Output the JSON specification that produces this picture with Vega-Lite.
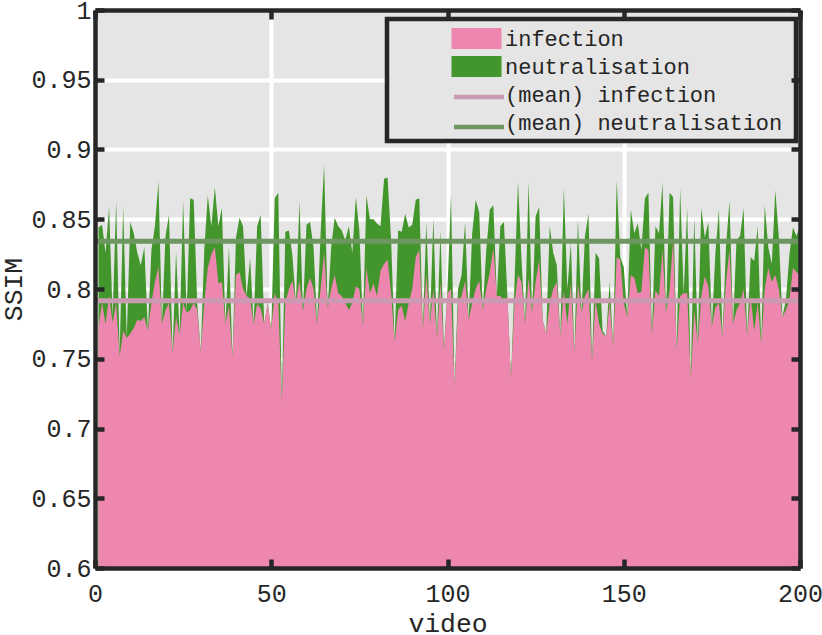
{
  "$schema": "https://vega.github.io/schema/vega-lite/v6.json",
  "autosize": {"type": "none"},
  "padding": {"left": 95, "top": 10, "right": 22, "bottom": 67},
  "width": 705,
  "height": 558,
  "background": "white",
  "config": {
    "view": {"fill": "#e5e5e5", "stroke": null},
    "font": "Liberation Mono",
    "legend": {"strokeWidth": 4.5}
  },
  "datasets": {
    "ssim": [
      {"video":1,"infection":0.773,"neutralisation":0.844},{"video":2,"infection":0.790,"neutralisation":0.846},{"video":3,"infection":0.775,"neutralisation":0.826},{"video":4,"infection":0.795,"neutralisation":0.859},{"video":5,"infection":0.776,"neutralisation":0.780},
      {"video":6,"infection":0.790,"neutralisation":0.863},{"video":7,"infection":0.752,"neutralisation":0.754},{"video":8,"infection":0.770,"neutralisation":0.859},{"video":9,"infection":0.765,"neutralisation":0.765},{"video":10,"infection":0.768,"neutralisation":0.848},
      {"video":11,"infection":0.772,"neutralisation":0.840},{"video":12,"infection":0.778,"neutralisation":0.826},{"video":13,"infection":0.777,"neutralisation":0.817},{"video":14,"infection":0.780,"neutralisation":0.830},{"video":15,"infection":0.770,"neutralisation":0.770},
      {"video":16,"infection":0.790,"neutralisation":0.828},{"video":17,"infection":0.805,"neutralisation":0.845},{"video":18,"infection":0.816,"neutralisation":0.877},{"video":19,"infection":0.775,"neutralisation":0.775},{"video":20,"infection":0.785,"neutralisation":0.838},
      {"video":21,"infection":0.790,"neutralisation":0.853},{"video":22,"infection":0.754,"neutralisation":0.754},{"video":23,"infection":0.780,"neutralisation":0.827},{"video":24,"infection":0.767,"neutralisation":0.767},{"video":25,"infection":0.790,"neutralisation":0.863},
      {"video":26,"infection":0.783,"neutralisation":0.783},{"video":27,"infection":0.785,"neutralisation":0.865},{"video":28,"infection":0.790,"neutralisation":0.864},{"video":29,"infection":0.785,"neutralisation":0.790},{"video":30,"infection":0.755,"neutralisation":0.755},
      {"video":31,"infection":0.790,"neutralisation":0.828},{"video":32,"infection":0.815,"neutralisation":0.867},{"video":33,"infection":0.825,"neutralisation":0.845},{"video":34,"infection":0.830,"neutralisation":0.873},{"video":35,"infection":0.804,"neutralisation":0.845},
      {"video":36,"infection":0.805,"neutralisation":0.858},{"video":37,"infection":0.775,"neutralisation":0.775},{"video":38,"infection":0.788,"neutralisation":0.830},{"video":39,"infection":0.751,"neutralisation":0.751},{"video":40,"infection":0.810,"neutralisation":0.837},
      {"video":41,"infection":0.812,"neutralisation":0.851},{"video":42,"infection":0.800,"neutralisation":0.845},{"video":43,"infection":0.795,"neutralisation":0.795},{"video":44,"infection":0.793,"neutralisation":0.822},{"video":45,"infection":0.775,"neutralisation":0.775},
      {"video":46,"infection":0.789,"neutralisation":0.845},{"video":47,"infection":0.786,"neutralisation":0.853},{"video":48,"infection":0.775,"neutralisation":0.775},{"video":49,"infection":0.790,"neutralisation":0.790},{"video":50,"infection":0.771,"neutralisation":0.771},
      {"video":51,"infection":0.797,"neutralisation":0.865},{"video":52,"infection":0.790,"neutralisation":0.869},{"video":53,"infection":0.719,"neutralisation":0.719},{"video":54,"infection":0.790,"neutralisation":0.841},{"video":55,"infection":0.800,"neutralisation":0.842},
      {"video":56,"infection":0.806,"neutralisation":0.824},{"video":57,"infection":0.790,"neutralisation":0.790},{"video":58,"infection":0.806,"neutralisation":0.863},{"video":59,"infection":0.784,"neutralisation":0.784},{"video":60,"infection":0.800,"neutralisation":0.846},
      {"video":61,"infection":0.808,"neutralisation":0.848},{"video":62,"infection":0.800,"neutralisation":0.830},{"video":63,"infection":0.775,"neutralisation":0.775},{"video":64,"infection":0.800,"neutralisation":0.840},{"video":65,"infection":0.826,"neutralisation":0.889},
      {"video":66,"infection":0.786,"neutralisation":0.786},{"video":67,"infection":0.800,"neutralisation":0.830},{"video":68,"infection":0.810,"neutralisation":0.851},{"video":69,"infection":0.797,"neutralisation":0.845},{"video":70,"infection":0.795,"neutralisation":0.842},
      {"video":71,"infection":0.790,"neutralisation":0.835},{"video":72,"infection":0.785,"neutralisation":0.845},{"video":73,"infection":0.790,"neutralisation":0.826},{"video":74,"infection":0.802,"neutralisation":0.866},{"video":75,"infection":0.800,"neutralisation":0.842},
      {"video":76,"infection":0.774,"neutralisation":0.774},{"video":77,"infection":0.815,"neutralisation":0.867},{"video":78,"infection":0.797,"neutralisation":0.850},{"video":79,"infection":0.804,"neutralisation":0.850},{"video":80,"infection":0.795,"neutralisation":0.847},
      {"video":81,"infection":0.813,"neutralisation":0.845},{"video":82,"infection":0.818,"neutralisation":0.879},{"video":83,"infection":0.821,"neutralisation":0.880},{"video":84,"infection":0.797,"neutralisation":0.835},{"video":85,"infection":0.762,"neutralisation":0.762},
      {"video":86,"infection":0.785,"neutralisation":0.842},{"video":87,"infection":0.788,"neutralisation":0.841},{"video":88,"infection":0.777,"neutralisation":0.854},{"video":89,"infection":0.790,"neutralisation":0.844},{"video":90,"infection":0.800,"neutralisation":0.846},
      {"video":91,"infection":0.823,"neutralisation":0.864},{"video":92,"infection":0.828,"neutralisation":0.865},{"video":93,"infection":0.771,"neutralisation":0.771},{"video":94,"infection":0.810,"neutralisation":0.848},{"video":95,"infection":0.775,"neutralisation":0.775},
      {"video":96,"infection":0.800,"neutralisation":0.851},{"video":97,"infection":0.765,"neutralisation":0.765},{"video":98,"infection":0.805,"neutralisation":0.842},{"video":99,"infection":0.756,"neutralisation":0.756},{"video":100,"infection":0.797,"neutralisation":0.800},
      {"video":101,"infection":0.800,"neutralisation":0.867},{"video":102,"infection":0.730,"neutralisation":0.730},{"video":103,"infection":0.790,"neutralisation":0.800},{"video":104,"infection":0.795,"neutralisation":0.810},{"video":105,"infection":0.806,"neutralisation":0.848},
      {"video":106,"infection":0.778,"neutralisation":0.778},{"video":107,"infection":0.790,"neutralisation":0.840},{"video":108,"infection":0.800,"neutralisation":0.864},{"video":109,"infection":0.806,"neutralisation":0.855},{"video":110,"infection":0.785,"neutralisation":0.785},
      {"video":111,"infection":0.800,"neutralisation":0.828},{"video":112,"infection":0.812,"neutralisation":0.857},{"video":113,"infection":0.829,"neutralisation":0.860},{"video":114,"infection":0.795,"neutralisation":0.795},{"video":115,"infection":0.795,"neutralisation":0.845},
      {"video":116,"infection":0.790,"neutralisation":0.848},{"video":117,"infection":0.795,"neutralisation":0.795},{"video":118,"infection":0.736,"neutralisation":0.736},{"video":119,"infection":0.790,"neutralisation":0.804},{"video":120,"infection":0.810,"neutralisation":0.877},
      {"video":121,"infection":0.805,"neutralisation":0.821},{"video":122,"infection":0.775,"neutralisation":0.775},{"video":123,"infection":0.808,"neutralisation":0.877},{"video":124,"infection":0.783,"neutralisation":0.783},{"video":125,"infection":0.805,"neutralisation":0.852},
      {"video":126,"infection":0.821,"neutralisation":0.859},{"video":127,"infection":0.778,"neutralisation":0.778},{"video":128,"infection":0.768,"neutralisation":0.768},{"video":129,"infection":0.790,"neutralisation":0.845},{"video":130,"infection":0.800,"neutralisation":0.826},
      {"video":131,"infection":0.805,"neutralisation":0.817},{"video":132,"infection":0.766,"neutralisation":0.766},{"video":133,"infection":0.799,"neutralisation":0.873},{"video":134,"infection":0.775,"neutralisation":0.800},{"video":135,"infection":0.804,"neutralisation":0.833},
      {"video":136,"infection":0.754,"neutralisation":0.754},{"video":137,"infection":0.804,"neutralisation":0.850},{"video":138,"infection":0.783,"neutralisation":0.783},{"video":139,"infection":0.795,"neutralisation":0.838},{"video":140,"infection":0.800,"neutralisation":0.854},
      {"video":141,"infection":0.749,"neutralisation":0.749},{"video":142,"infection":0.792,"neutralisation":0.826},{"video":143,"infection":0.775,"neutralisation":0.822},{"video":144,"infection":0.768,"neutralisation":0.770},{"video":145,"infection":0.766,"neutralisation":0.766},
      {"video":146,"infection":0.790,"neutralisation":0.805},{"video":147,"infection":0.759,"neutralisation":0.759},{"video":148,"infection":0.823,"neutralisation":0.878},{"video":149,"infection":0.821,"neutralisation":0.823},{"video":150,"infection":0.790,"neutralisation":0.816},
      {"video":151,"infection":0.780,"neutralisation":0.780},{"video":152,"infection":0.810,"neutralisation":0.857},{"video":153,"infection":0.808,"neutralisation":0.840},{"video":154,"infection":0.797,"neutralisation":0.847},{"video":155,"infection":0.798,"neutralisation":0.828},
      {"video":156,"infection":0.830,"neutralisation":0.865},{"video":157,"infection":0.828,"neutralisation":0.869},{"video":158,"infection":0.768,"neutralisation":0.768},{"video":159,"infection":0.799,"neutralisation":0.845},{"video":160,"infection":0.795,"neutralisation":0.840},
      {"video":161,"infection":0.828,"neutralisation":0.876},{"video":162,"infection":0.783,"neutralisation":0.783},{"video":163,"infection":0.799,"neutralisation":0.869},{"video":164,"infection":0.835,"neutralisation":0.866},{"video":165,"infection":0.756,"neutralisation":0.756},
      {"video":166,"infection":0.795,"neutralisation":0.872},{"video":167,"infection":0.797,"neutralisation":0.797},{"video":168,"infection":0.797,"neutralisation":0.858},{"video":169,"infection":0.735,"neutralisation":0.735},{"video":170,"infection":0.785,"neutralisation":0.852},
      {"video":171,"infection":0.761,"neutralisation":0.761},{"video":172,"infection":0.795,"neutralisation":0.858},{"video":173,"infection":0.809,"neutralisation":0.837},{"video":174,"infection":0.802,"neutralisation":0.848},{"video":175,"infection":0.773,"neutralisation":0.773},
      {"video":176,"infection":0.787,"neutralisation":0.826},{"video":177,"infection":0.790,"neutralisation":0.857},{"video":178,"infection":0.766,"neutralisation":0.766},{"video":179,"infection":0.805,"neutralisation":0.830},{"video":180,"infection":0.828,"neutralisation":0.863},
      {"video":181,"infection":0.775,"neutralisation":0.775},{"video":182,"infection":0.785,"neutralisation":0.835},{"video":183,"infection":0.790,"neutralisation":0.838},{"video":184,"infection":0.800,"neutralisation":0.858},{"video":185,"infection":0.767,"neutralisation":0.767},
      {"video":186,"infection":0.795,"neutralisation":0.823},{"video":187,"infection":0.770,"neutralisation":0.820},{"video":188,"infection":0.790,"neutralisation":0.845},{"video":189,"infection":0.761,"neutralisation":0.761},{"video":190,"infection":0.800,"neutralisation":0.860},
      {"video":191,"infection":0.815,"neutralisation":0.830},{"video":192,"infection":0.805,"neutralisation":0.818},{"video":193,"infection":0.810,"neutralisation":0.871},{"video":194,"infection":0.800,"neutralisation":0.837},{"video":195,"infection":0.780,"neutralisation":0.780},
      {"video":196,"infection":0.785,"neutralisation":0.792},{"video":197,"infection":0.792,"neutralisation":0.825},{"video":198,"infection":0.815,"neutralisation":0.844},{"video":199,"infection":0.812,"neutralisation":0.838},{"video":200,"infection":0.810,"neutralisation":0.845}
    ],
    "means": [
      {"kind": "(mean) infection", "ssim": 0.7916},
      {"kind": "(mean) neutralisation", "ssim": 0.8343}
    ]
  },
  "layer": [
    {
      "data": {"name": "ssim"},
      "transform": [{"fold": ["neutralisation"], "as": ["kind", "ssim"]}],
      "mark": {"type": "area", "opacity": 1, "interpolate": "linear"},
      "encoding": {
        "x": {
          "field": "video", "type": "quantitative",
          "scale": {"domain": [0, 200], "nice": false, "zero": false},
          "axis": {
            "orient": "bottom", "values": [0, 50, 100, 150, 200], "grid": true, "gridColor": "white", "gridWidth": 4, "gridOpacity": 1,
            "domain": false, "ticks": false, "labelFlush": false, "labelPadding": 13,
            "labelFont": "Liberation Mono", "labelFontSize": 25, "labelColor": "#262626",
            "title": "video", "titleFont": "Liberation Mono", "titleFontSize": 26.4, "titleFontWeight": "normal", "titleColor": "#262626",
            "titleY": 63, "titleBaseline": "alphabetic", "zindex": 0
          }
        },
        "y": {
          "field": "ssim", "type": "quantitative",
          "scale": {"domain": [0.6, 1], "nice": false, "zero": false},
          "axis": {
            "orient": "left", "values": [0.6, 0.65, 0.7, 0.75, 0.8, 0.85, 0.9, 0.95, 1], "format": "~g", "grid": true, "gridColor": "white", "gridWidth": 4, "gridOpacity": 1,
            "domain": false, "ticks": false, "labelPadding": 4,
            "labelFont": "Liberation Mono", "labelFontSize": 25, "labelColor": "#262626",
            "title": "SSIM", "titleFont": "Liberation Mono", "titleFontSize": 26.4, "titleFontWeight": "normal", "titleColor": "#262626",
            "titleX": -74, "titleY": 279, "titleAngle": -90, "titleBaseline": "alphabetic", "titleAlign": "center", "zindex": 0
          }
        },
        "y2": {"datum": 0.6},
        "color": {
          "field": "kind", "type": "nominal",
          "scale": {
            "domain": ["infection", "neutralisation", "(mean) infection", "(mean) neutralisation"],
            "range": ["#ED87B0", "#43962B", "transparent", "transparent"]
          },
          "legend": {
            "orient": "none", "legendX": 292, "legendY": 9,
            "title": " ", "titleOrient": "right", "titleFontSize": 1, "titlePadding": 6.5,
            "fillColor": "#e5e5e5", "strokeColor": "#262626",
            "padding": 7, "symbolOffset": 70, "labelOffset": 16, "rowPadding": 4,
            "labelFont": "Liberation Mono", "labelFontSize": 22, "labelColor": "#262626", "labelLimit": 500,
            "symbolSize": 625, "symbolStrokeWidth": 0, "symbolType": "M-2,-0.84H2V0.84H-2Z", "symbolOpacity": 1
          }
        }
      }
    },
    {
      "data": {"name": "ssim"},
      "transform": [{"fold": ["infection"], "as": ["kind", "ssim"]}],
      "mark": {"type": "area", "opacity": 1, "interpolate": "linear"},
      "encoding": {
        "x": {
          "field": "video", "type": "quantitative",
          "axis": {
            "orient": "bottom", "values": [0, 50, 100, 150, 200], "grid": false, "labels": false, "title": null,
            "domain": true, "domainColor": "#262626", "domainWidth": 4.5,
            "ticks": true, "tickSize": -9, "tickWidth": 4.5, "tickColor": "#262626", "zindex": 1
          }
        },
        "y": {
          "field": "ssim", "type": "quantitative",
          "axis": {
            "orient": "left", "values": [0.6, 0.65, 0.7, 0.75, 0.8, 0.85, 0.9, 0.95, 1], "grid": false, "labels": false, "title": null,
            "domain": true, "domainColor": "#262626", "domainWidth": 4.5,
            "ticks": true, "tickSize": -9, "tickWidth": 4.5, "tickColor": "#262626", "zindex": 1
          }
        },
        "y2": {"datum": 0.6},
        "color": {"field": "kind", "type": "nominal"}
      }
    },
    {
      "data": {"name": "means"},
      "mark": {"type": "rule", "strokeWidth": 5, "opacity": 1},
      "encoding": {
        "y": {"field": "ssim", "type": "quantitative", "axis": null},
        "stroke": {
          "field": "kind", "type": "nominal",
          "scale": {"domain": ["(mean) infection", "(mean) neutralisation"], "range": ["#CC99B3", "#6E9661"]},
          "legend": {
            "orient": "none", "legendX": 292, "legendY": 65,
            "title": " ", "titleOrient": "right", "titleFontSize": 1, "titlePadding": 6.5,
            "padding": 7, "symbolOffset": 70, "labelOffset": 16, "rowPadding": 4,
            "labelFont": "Liberation Mono", "labelFontSize": 22, "labelColor": "#262626", "labelLimit": 500, "labelOpacity": 0,
            "labelExpr": "''",
            "symbolSize": 625, "symbolStrokeWidth": 4.5, "symbolType": "M-2,0H2", "symbolOpacity": 1
          }
        }
      }
    },
    {
      "data": {"name": "ssim"},
      "mark": {"type": "point", "opacity": 0},
      "encoding": {
        "x": {
          "field": "video", "type": "quantitative",
          "axis": {
            "orient": "top", "values": [0, 50, 100, 150, 200], "grid": false, "labels": false, "title": null,
            "domain": true, "domainColor": "#262626", "domainWidth": 4.5,
            "ticks": true, "tickSize": -9, "tickWidth": 4.5, "tickColor": "#262626", "zindex": 1
          }
        },
        "y": {
          "field": "infection", "type": "quantitative",
          "axis": {
            "orient": "right", "values": [0.6, 0.65, 0.7, 0.75, 0.8, 0.85, 0.9, 0.95, 1], "grid": false, "labels": false, "title": null,
            "domain": true, "domainColor": "#262626", "domainWidth": 4.5,
            "ticks": true, "tickSize": -9, "tickWidth": 4.5, "tickColor": "#262626", "zindex": 1
          }
        }
      }
    }
  ],
  "resolve": {"axis": {"x": "independent", "y": "independent"}}
}
